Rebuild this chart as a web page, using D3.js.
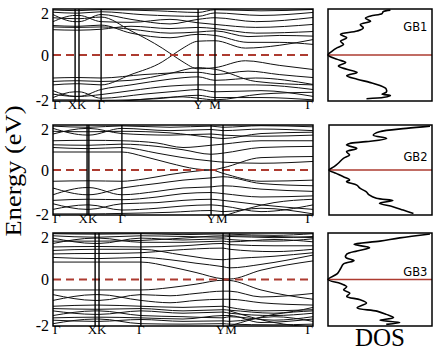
<!DOCTYPE html>
<html>
<head>
<meta charset="utf-8">
<script src="https://cdnjs.cloudflare.com/ajax/libs/d3/7.8.5/d3.min.js"></script>
<style>
body { margin: 0; background: #fff; }
</style>
</head>
<body>
<script>

// k-path (fraction of the path length) and labels
var kNames = ["Γ", "X", "K", "Γ", "Y", "M", "Γ"];
var kTicks1 = [0, 0.085, 0.1, 0.185, 0.558, 0.623, 1];
var kTicks2 = [0, 0.131, 0.138, 0.265, 0.608, 0.654, 1];
var kTicks3 = [0, 0.162, 0.177, 0.338, 0.654, 0.679, 1];
var energyTicks = [-2, 0, 2];

// bands, [k, E] knots
var bands1 = [
  [[0,1.96],[.085,1.93],[.1,1.93],[.185,1.97],[.4,1.92],[.558,1.85],[.623,1.97],[.8,1.92],[1,1.98]],
  [[0,1.86],[.085,1.82],[.1,1.82],[.185,1.88],[.35,1.75],[.558,1.68],[.623,1.83],[.8,1.72],[1,1.85]],
  [[0,1.76],[.085,1.45],[.1,1.45],[.185,1.76],[.3,1.55],[.45,1.35],[.558,1.55],[.623,1.62],[.78,1.45],[1,1.63]],
  [[0,1.45],[.085,1.72],[.1,1.72],[.185,1.45],[.3,1.42],[.45,1.55],[.558,1.4],[.623,1.33],[.78,1.2],[1,1.33]],
  [[0,1.1],[.085,1.08],[.1,1.08],[.185,1.12],[.3,1.25],[.45,1.15],[.558,1.2],[.623,1.15],[.78,0.95],[1,1.02]],
  [[0,1.28],[.085,1.25],[.1,1.25],[.185,1.3],[.3,0.95],[.45,0.75],[.558,0.9],[.623,0.85],[.75,0.55],[.87,0.55],[1,0.46]],
  [[0,1.62],[.085,1.58],[.1,1.58],[.185,1.65],[.3,1.05],[.42,0.3],[.46,0],[.5,-0.3],[.558,-0.6],[.623,-0.55],[.74,-0.25],[.87,-0.45],[1,-0.63]],
  [[0,-1.3],[.085,-1.25],[.1,-1.25],[.185,-1.3],[.3,-0.85],[.42,-0.3],[.46,0],[.5,0.3],[.558,0.6],[.623,0.62],[.74,0.3],[.87,0.42],[1,0.67]],
  [[0,1.22],[.085,1.2],[.1,1.2],[.185,1.22],[.3,1.12],[.45,0.95],[.558,1.0],[.623,1.05],[.75,0.8],[.87,0.85],[1,0.82]],
  [[0,-1.0],[.085,-0.98],[.1,-0.98],[.185,-1.0],[.35,-0.85],[.558,-0.75],[.623,-0.85],[.75,-0.7],[.87,-0.85],[1,-0.98]],
  [[0,-1.15],[.085,-1.12],[.1,-1.12],[.185,-1.15],[.3,-1.1],[.45,-0.8],[.558,-0.55],[.623,-0.62],[.78,-1.15],[1,-1.3]],
  [[0,-1.55],[.085,-1.8],[.1,-1.8],[.185,-1.5],[.3,-1.3],[.45,-1.05],[.558,-0.95],[.623,-1.1],[.78,-1.0],[1,-1.28]],
  [[0,-1.7],[.085,-1.8],[.1,-1.8],[.185,-1.72],[.3,-1.55],[.45,-1.35],[.558,-1.3],[.623,-1.3],[.78,-1.3],[1,-1.5]],
  [[0,-1.85],[.085,-1.6],[.1,-1.6],[.185,-1.88],[.35,-1.7],[.5,-1.55],[.558,-1.5],[.623,-1.6],[.8,-1.55],[1,-1.8]],
  [[0,-1.95],[.085,-1.95],[.1,-1.95],[.185,-1.97],[.4,-1.9],[.558,-1.75],[.623,-1.85],[.8,-1.85],[1,-1.95]],
  [[.185,-2.1],[.35,-1.92],[.5,-1.82],[.558,-1.88],[.623,-1.95],[.8,-1.7],[1,-1.62]]
];

var bands2 = [
  [[0,1.95],[.131,1.9],[.138,1.9],[.265,1.96],[.45,1.9],[.608,1.95],[.654,1.9],[.8,1.97],[1,1.92]],
  [[0,1.85],[.131,1.55],[.138,1.55],[.265,1.85],[.45,1.75],[.608,1.8],[.654,1.75],[.8,1.82],[1,1.75]],
  [[0,1.6],[.131,1.85],[.138,1.85],[.265,1.62],[.45,1.55],[.608,1.6],[.654,1.55],[.8,1.5],[1,1.55]],
  [[0,1.72],[.131,1.7],[.138,1.7],[.265,1.72],[.45,1.65],[.608,1.45],[.654,1.4],[.8,1.62],[1,1.68]],
  [[0,1.3],[.131,1.32],[.138,1.32],[.265,1.3],[.4,1.2],[.5,1.0],[.608,1.1],[.654,1.15],[.8,1.3],[1,1.3]],
  [[0,1.12],[.131,1.1],[.138,1.1],[.265,1.15],[.4,1.05],[.5,0.9],[.608,0.7],[.654,0.75],[.8,1.0],[1,1.05]],
  [[0,1.0],[.131,0.95],[.138,0.95],[.265,1.0],[.4,0.75],[.5,0.55],[.608,0.4],[.654,0.35],[.8,0.3],[1,0.38]],
  [[0,0.8],[.131,0.8],[.138,0.8],[.265,0.8],[.35,0.6],[.45,0.3],[.55,0.05],[.608,0],[.654,0.1],[.8,0.55],[1,0.6]],
  [[0,-0.5],[.131,-0.48],[.138,-0.48],[.265,-0.5],[.35,-0.4],[.45,-0.2],[.55,-0.05],[.608,0],[.654,-0.15],[.8,-0.5],[1,-0.45]],
  [[0,-0.8],[.131,-1.1],[.138,-1.1],[.265,-0.8],[.4,-0.6],[.5,-0.45],[.608,-0.35],[.654,-0.3],[.8,-0.6],[1,-0.7]],
  [[0,-1.1],[.131,-0.78],[.138,-0.78],[.265,-1.1],[.4,-0.95],[.5,-0.8],[.608,-0.75],[.654,-0.7],[.8,-0.85],[1,-0.95]],
  [[0,-1.35],[.131,-1.3],[.138,-1.3],[.265,-1.32],[.4,-1.2],[.5,-1.05],[.608,-1.0],[.654,-1.05],[.8,-1.2],[1,-1.15]],
  [[0,-1.5],[.131,-1.75],[.138,-1.75],[.265,-1.5],[.4,-1.45],[.5,-1.35],[.608,-1.3],[.654,-1.35],[.8,-1.55],[1,-1.75]],
  [[0,-1.75],[.131,-1.55],[.138,-1.55],[.265,-1.78],[.4,-1.7],[.5,-1.6],[.608,-1.55],[.654,-1.6],[.8,-1.85],[1,-1.55]],
  [[0,-1.95],[.131,-1.95],[.138,-1.95],[.265,-1.93],[.45,-1.88],[.608,-1.8],[.654,-1.85],[.8,-1.7],[1,-1.95]],
  [[.654,-2.05],[.85,-1.45],[1,-1.3]]
];

var bands3 = [
  [[0,1.97],[.162,1.95],[.177,1.95],[.338,1.97],[.5,1.93],[.654,1.96],[.679,1.95],[.85,1.9],[1,1.97]],
  [[0,1.88],[.162,1.82],[.177,1.82],[.338,1.88],[.5,1.85],[.654,1.82],[.679,1.85],[.85,1.8],[1,1.85]],
  [[0,1.78],[.162,1.55],[.177,1.55],[.338,1.78],[.5,1.7],[.654,1.75],[.679,1.72],[.85,1.65],[1,1.75]],
  [[0,1.65],[.162,1.65],[.177,1.65],[.338,1.68],[.5,1.78],[.654,1.88],[.679,1.88],[.85,1.85],[1,1.8]],
  [[0,1.55],[.162,1.78],[.177,1.78],[.338,1.6],[.5,1.6],[.654,1.65],[.679,1.62],[.85,1.72],[1,1.62]],
  [[0,1.4],[.162,1.42],[.177,1.42],[.338,1.4],[.5,1.45],[.654,1.55],[.679,1.5],[.85,1.45],[1,1.45]],
  [[0,1.25],[.162,1.3],[.177,1.3],[.338,1.3],[.5,1.05],[.654,0.85],[.679,0.88],[.85,1.0],[1,1.15]],
  [[0,1.1],[.162,1.12],[.177,1.12],[.338,1.15],[.45,1.25],[.654,1.35],[.679,1.3],[.85,1.2],[1,1.3]],
  [[0,0.95],[.162,0.9],[.177,0.9],[.338,0.95],[.45,0.85],[.55,0.7],[.654,0.55],[.679,0.5],[.8,0.65],[1,1.05]],
  [[0,0.75],[.162,0.75],[.177,0.75],[.338,0.75],[.45,0.55],[.55,0.3],[.654,0.03],[.679,0.02],[.8,0.4],[1,0.8]],
  [[0,-0.45],[.162,-0.45],[.177,-0.45],[.338,-0.45],[.45,-0.35],[.55,-0.2],[.654,-0.03],[.679,-0.04],[.8,-0.45],[1,-0.85]],
  [[0,-0.65],[.162,-0.9],[.177,-0.9],[.338,-0.65],[.45,-0.7],[.55,-0.6],[.654,-0.5],[.679,-0.5],[.8,-0.75],[1,-0.6]],
  [[0,-0.9],[.162,-0.65],[.177,-0.65],[.338,-0.9],[.45,-1.0],[.55,-0.9],[.654,-0.85],[.679,-0.85],[.8,-1.0],[1,-1.1]],
  [[0,-1.15],[.162,-1.1],[.177,-1.1],[.338,-1.15],[.5,-1.2],[.654,-1.15],[.679,-1.2],[.8,-1.35],[1,-1.3]],
  [[0,-1.25],[.162,-1.28],[.177,-1.28],[.338,-1.25],[.5,-1.35],[.654,-1.3],[.679,-1.32],[.85,-1.45],[1,-1.2]],
  [[0,-1.35],[.162,-1.5],[.177,-1.5],[.338,-1.35],[.5,-1.45],[.654,-1.4],[.679,-1.45],[.85,-1.55],[1,-1.45]],
  [[0,-1.55],[.162,-1.35],[.177,-1.35],[.338,-1.55],[.5,-1.6],[.654,-1.65],[.679,-1.6],[.85,-1.75],[1,-1.6]],
  [[0,-1.65],[.162,-1.62],[.177,-1.62],[.338,-1.65],[.5,-1.7],[.654,-1.55],[.679,-1.55],[.8,-1.85],[1,-1.7]],
  [[0,-1.75],[.162,-1.8],[.177,-1.8],[.338,-1.72],[.5,-1.8],[.654,-1.78],[.679,-1.8],[.85,-1.6],[1,-1.8]],
  [[0,-1.9],[.162,-1.7],[.177,-1.7],[.338,-1.9],[.5,-1.92],[.654,-1.9],[.679,-1.92],[.85,-1.95],[1,-1.92]],
  [[.679,-1.35],[.85,-1.85],[1,-2.05]],
  [[.679,-2.0],[.85,-1.5],[1,-1.35]]
];

// density of states (energy, relative DOS)
var dosE1 = [1.95,1.88,1.8,1.7,1.6,1.47,1.32,1.18,1.04,0.9,0.75,0.6,0.46,0.32,0.17,0,-0.19,-0.33,-0.48,-0.62,-0.76,-0.9,-1.05,-1.19,-1.33,-1.48,-1.62,-1.7,-1.76,-1.84,-1.9];
var dosV1 = [0.6,0.53,0.52,0.41,0.36,0.41,0.31,0.34,0.28,0.12,0.18,0.12,0.15,0.09,0.04,0,0.09,0.17,0.10,0.18,0.28,0.18,0.28,0.40,0.50,0.56,0.56,0.52,0.60,0.54,0.37];
var dosE2 = [1.95,1.85,1.7,1.55,1.4,1.26,1.18,1.11,0.96,0.81,0.67,0.52,0.3,0.15,0,-0.15,-0.3,-0.44,-0.52,-0.67,-0.81,-0.96,-1.11,-1.26,-1.36,-1.48,-1.63,-1.78,-1.93];
var dosV2 = [0.98,0.75,0.49,0.43,0.56,0.36,0.2,0.17,0.27,0.17,0.2,0.14,0.09,0.05,0,0.07,0.14,0.2,0.17,0.27,0.3,0.36,0.39,0.46,0.62,0.49,0.62,0.72,0.82];
var dosE3 = [1.96,1.79,1.65,1.51,1.37,1.23,1.09,0.95,0.81,0.67,0.46,0.25,0,-0.17,-0.31,-0.45,-0.59,-0.73,-0.87,-1.01,-1.22,-1.36,-1.5,-1.64,-1.75,-1.85,-1.93];
var dosV3 = [0.98,0.69,0.5,0.25,0.4,0.28,0.18,0.17,0.25,0.15,0.12,0.09,0,0.12,0.18,0.15,0.21,0.18,0.31,0.37,0.28,0.47,0.56,0.63,0.5,0.69,0.56];

var width = 436, height = 352;
var frameLeft = 53, frameRight = 313, dosRight = 432;
var red = '#ad3b30';
var serif = '"Liberation Serif", "Times New Roman", serif';

var panels = [
  {name: "GB1", top: 9,   bottom: 101, dosLeft: 328, ticks: kTicks1, bands: bands1, dosE: dosE1, dosV: dosV1, labelE: 1.22},
  {name: "GB2", top: 125, bottom: 215, dosLeft: 329, ticks: kTicks2, bands: bands2, dosE: dosE2, dosV: dosV2, labelE: 0.58},
  {name: "GB3", top: 233, bottom: 326, dosLeft: 328, ticks: kTicks3, bands: bands3, dosE: dosE3, dosV: dosV3, labelE: 0.32}
];

var svg = d3.select('body').append('svg')
    .attr('width', width)
    .attr('height', height)
    .style('display', 'block');

panels.forEach(function(p, n) {
    var x = d3.scaleLinear().domain([0, 1]).range([frameLeft, frameRight]);
    var y = d3.scaleLinear().domain([-2, 2]).range([p.bottom, p.top]);
    var xd = d3.scaleLinear().domain([0, 1]).range([p.dosLeft, dosRight]);

    svg.append('clipPath').attr('id', 'clip' + n)
      .append('rect')
        .attr('x', frameLeft).attr('y', p.top)
        .attr('width', frameRight - frameLeft).attr('height', p.bottom - p.top);

    // bands
    var line = d3.line()
        .x(function(d) { return x(d[0]); })
        .y(function(d) { return y(d[1]); })
        .curve(d3.curveMonotoneX);

    svg.append('g').attr('clip-path', 'url(#clip' + n + ')')
      .selectAll('path')
      .data(p.bands)
      .enter().append('path')
        .attr('d', line)
        .attr('fill', 'none')
        .attr('stroke', '#111')
        .attr('stroke-width', 1);

    // Fermi level
    svg.append('line')
        .attr('x1', frameLeft).attr('x2', frameRight)
        .attr('y1', y(0)).attr('y2', y(0))
        .attr('stroke', red).attr('stroke-width', 1.8)
        .attr('stroke-dasharray', '8,5');

    // high symmetry lines
    svg.selectAll(null)
      .data(p.ticks.slice(1, -1))
      .enter().append('line')
        .attr('x1', function(d) { return x(d); })
        .attr('x2', function(d) { return x(d); })
        .attr('y1', p.top).attr('y2', p.bottom)
        .attr('stroke', '#000').attr('stroke-width', 1.4);

    svg.append('rect')
        .attr('x', frameLeft).attr('y', p.top)
        .attr('width', frameRight - frameLeft).attr('height', p.bottom - p.top)
        .attr('fill', 'none').attr('stroke', '#000').attr('stroke-width', 1.5);

    // energy axis
    var ax = svg.append('g')
        .attr('transform', 'translate(' + (frameLeft - 1) + ',0)')
        .call(d3.axisLeft(y).tickValues(energyTicks).tickSize(0).tickPadding(3)
              .tickFormat(function(d) { return String(d); }));
    ax.attr('font-family', null).attr('font-size', null);
    ax.select('.domain').remove();
    ax.selectAll('text')
        .style('font-family', serif).style('font-size', '16px').attr('fill', '#000')
        .attr('dy', function(d) { return d === 2 ? '0.6em' : (d === -2 ? '0.25em' : '0.32em'); });

    // k labels, close ticks merged into one label
    var labels = [];
    p.ticks.forEach(function(t, i) {
        var last = labels[labels.length - 1];
        if (last && i > 0 && i < p.ticks.length - 1 && last.i > 0 && x(t) - x(last.k[last.k.length - 1]) < 14) {
            last.text += kNames[i];
            last.k.push(t);
        } else {
            labels.push({i: i, k: [t], text: kNames[i]});
        }
    });
    svg.selectAll(null)
      .data(labels)
      .enter().append('text')
        .attr('x', function(d) {
            if (d.i === 0) return frameLeft;
            if (d.i === p.ticks.length - 1) return frameRight;
            return x(d3.mean(d.k));
        })
        .attr('y', p.bottom + 8)
        .attr('text-anchor', function(d) {
            if (d.i === 0) return 'start';
            if (d.i === p.ticks.length - 1) return 'end';
            return 'middle';
        })
        .style('font-family', serif).style('font-size', '13px')
        .text(function(d) { return d.text; });

    // DOS panel
    svg.append('line')
        .attr('x1', p.dosLeft).attr('x2', dosRight)
        .attr('y1', y(0)).attr('y2', y(0))
        .attr('stroke', red).attr('stroke-width', 1.5);

    var dosLine = d3.line()
        .x(function(d) { return xd(d[1]); })
        .y(function(d) { return y(d[0]); })
        .curve(d3.curveCatmullRom);

    svg.append('path')
        .datum(d3.zip(p.dosE, p.dosV))
        .attr('d', dosLine)
        .attr('fill', 'none').attr('stroke', '#000').attr('stroke-width', 1.6);

    svg.append('rect')
        .attr('x', p.dosLeft).attr('y', p.top)
        .attr('width', dosRight - p.dosLeft).attr('height', p.bottom - p.top)
        .attr('fill', 'none').attr('stroke', '#000').attr('stroke-width', 1.5);

    svg.append('text')
        .attr('x', xd(0.84)).attr('y', y(p.labelE))
        .attr('dy', '0.35em')
        .attr('text-anchor', 'middle')
        .style('font-family', '"DejaVu Sans", sans-serif').style('font-size', '11.5px')
        .text(p.name);
});

svg.append('text')
    .attr('transform', 'translate(21,171) rotate(-90) scale(1.15,1)')
    .attr('text-anchor', 'middle')
    .style('font-family', serif).style('font-size', '23px')
    .text('Energy (eV)');

svg.append('text')
    .attr('x', 380).attr('y', 346)
    .attr('text-anchor', 'middle')
    .style('font-family', serif).style('font-size', '25px')
    .text('DOS');

</script>
</body>
</html>
